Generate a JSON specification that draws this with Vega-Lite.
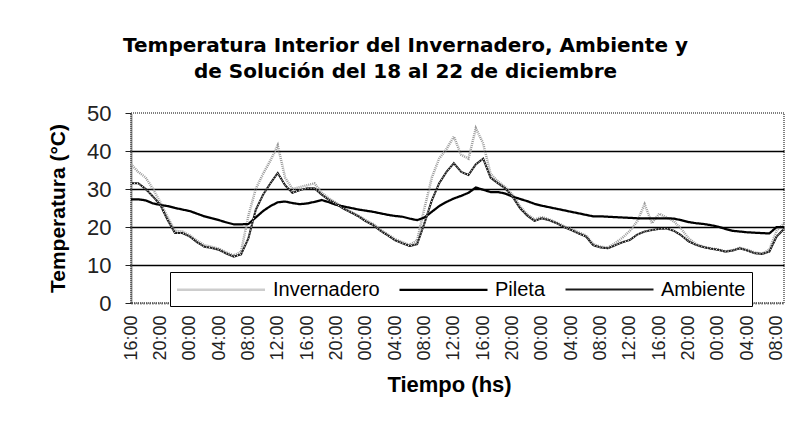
{
  "$schema": "https://vega.github.io/schema/vega-lite/v6.json",
  "width": 653,
  "height": 190,
  "autosize": {"type": "none"},
  "padding": {"left": 131, "top": 113, "right": 25, "bottom": 125},
  "background": "white",
  "title": {
    "text": ["Temperatura Interior del Invernadero, Ambiente y", "de Solución del 18 al 22 de diciembre"],
    "font": "DejaVu Sans",
    "fontSize": 20,
    "fontWeight": "bold",
    "color": "black",
    "anchor": "middle",
    "frame": "group",
    "dx": -52,
    "offset": 20,
    "lineHeight": 26
  },
  "data": {
    "values": [
      {"h": 0, "Invernadero": 36.5, "Pileta": 27.3, "Ambiente": 31.5},
      {"h": 1, "Invernadero": 34.5, "Pileta": 27.3, "Ambiente": 31.5},
      {"h": 2, "Invernadero": 33, "Pileta": 27, "Ambiente": 30},
      {"h": 3, "Invernadero": 30, "Pileta": 26.2, "Ambiente": 28},
      {"h": 4, "Invernadero": 26.5, "Pileta": 25.8, "Ambiente": 25.8},
      {"h": 5, "Invernadero": 22.5, "Pileta": 25.5, "Ambiente": 21.8},
      {"h": 6, "Invernadero": 19, "Pileta": 25, "Ambiente": 18.4},
      {"h": 7, "Invernadero": 18.8, "Pileta": 24.6, "Ambiente": 18.4},
      {"h": 8, "Invernadero": 17.8, "Pileta": 24.2, "Ambiente": 17.5},
      {"h": 9, "Invernadero": 16.4, "Pileta": 23.5, "Ambiente": 16},
      {"h": 10, "Invernadero": 15.2, "Pileta": 22.8, "Ambiente": 14.8},
      {"h": 11, "Invernadero": 14.8, "Pileta": 22.3, "Ambiente": 14.5},
      {"h": 12, "Invernadero": 14.3, "Pileta": 21.8, "Ambiente": 14},
      {"h": 13, "Invernadero": 13.3, "Pileta": 21.2, "Ambiente": 13},
      {"h": 14, "Invernadero": 12.5, "Pileta": 20.7, "Ambiente": 12.2},
      {"h": 15, "Invernadero": 13.5, "Pileta": 20.7, "Ambiente": 12.8},
      {"h": 16, "Invernadero": 23, "Pileta": 20.8, "Ambiente": 17},
      {"h": 17, "Invernadero": 30, "Pileta": 22.5, "Ambiente": 24.5},
      {"h": 18, "Invernadero": 34, "Pileta": 24.2, "Ambiente": 28.5},
      {"h": 19, "Invernadero": 37.5, "Pileta": 25.5, "Ambiente": 31.5},
      {"h": 20, "Invernadero": 41.5, "Pileta": 26.5, "Ambiente": 34.2},
      {"h": 21, "Invernadero": 33, "Pileta": 26.7, "Ambiente": 31},
      {"h": 22, "Invernadero": 30, "Pileta": 26.3, "Ambiente": 29},
      {"h": 23, "Invernadero": 30.5, "Pileta": 26, "Ambiente": 29.7},
      {"h": 24, "Invernadero": 31, "Pileta": 26.2, "Ambiente": 30.2},
      {"h": 25, "Invernadero": 31.5, "Pileta": 26.6, "Ambiente": 30.2},
      {"h": 26, "Invernadero": 29, "Pileta": 27.1, "Ambiente": 28.5},
      {"h": 27, "Invernadero": 27.5, "Pileta": 26.5, "Ambiente": 27.1},
      {"h": 28, "Invernadero": 26.3, "Pileta": 25.8, "Ambiente": 26},
      {"h": 29, "Invernadero": 25, "Pileta": 25.4, "Ambiente": 24.8},
      {"h": 30, "Invernadero": 24, "Pileta": 25, "Ambiente": 23.8},
      {"h": 31, "Invernadero": 23, "Pileta": 24.6, "Ambiente": 22.8},
      {"h": 32, "Invernadero": 21.8, "Pileta": 24.3, "Ambiente": 21.5},
      {"h": 33, "Invernadero": 20.8, "Pileta": 24, "Ambiente": 20.5},
      {"h": 34, "Invernadero": 19.3, "Pileta": 23.6, "Ambiente": 19},
      {"h": 35, "Invernadero": 18, "Pileta": 23.2, "Ambiente": 17.8},
      {"h": 36, "Invernadero": 16.8, "Pileta": 22.9, "Ambiente": 16.5},
      {"h": 37, "Invernadero": 16, "Pileta": 22.7, "Ambiente": 15.7},
      {"h": 38, "Invernadero": 15.3, "Pileta": 22.2, "Ambiente": 15},
      {"h": 39, "Invernadero": 16.5, "Pileta": 21.8, "Ambiente": 15.5},
      {"h": 40, "Invernadero": 25, "Pileta": 22.5, "Ambiente": 21},
      {"h": 41, "Invernadero": 33, "Pileta": 24, "Ambiente": 27},
      {"h": 42, "Invernadero": 38, "Pileta": 25.5, "Ambiente": 31.5},
      {"h": 43, "Invernadero": 40.5, "Pileta": 26.6, "Ambiente": 34.5},
      {"h": 44, "Invernadero": 43.8, "Pileta": 27.5, "Ambiente": 36.8},
      {"h": 45, "Invernadero": 39, "Pileta": 28.2, "Ambiente": 34.5},
      {"h": 46, "Invernadero": 38, "Pileta": 29, "Ambiente": 33.7},
      {"h": 47, "Invernadero": 46, "Pileta": 30.4, "Ambiente": 36.5},
      {"h": 48, "Invernadero": 42, "Pileta": 29.8, "Ambiente": 38},
      {"h": 49, "Invernadero": 34, "Pileta": 29.2, "Ambiente": 33},
      {"h": 50, "Invernadero": 32, "Pileta": 29.2, "Ambiente": 31.5},
      {"h": 51, "Invernadero": 30.5, "Pileta": 28.8, "Ambiente": 30.2},
      {"h": 52, "Invernadero": 28.5, "Pileta": 28, "Ambiente": 28},
      {"h": 53, "Invernadero": 25.5, "Pileta": 27.4, "Ambiente": 25},
      {"h": 54, "Invernadero": 23.3, "Pileta": 26.8, "Ambiente": 23},
      {"h": 55, "Invernadero": 22, "Pileta": 26.1, "Ambiente": 21.6},
      {"h": 56, "Invernadero": 22.6, "Pileta": 25.6, "Ambiente": 22.3},
      {"h": 57, "Invernadero": 22, "Pileta": 25.2, "Ambiente": 21.8},
      {"h": 58, "Invernadero": 21.2, "Pileta": 24.8, "Ambiente": 21},
      {"h": 59, "Invernadero": 20.2, "Pileta": 24.4, "Ambiente": 20},
      {"h": 60, "Invernadero": 19.5, "Pileta": 24, "Ambiente": 19.2},
      {"h": 61, "Invernadero": 18.6, "Pileta": 23.6, "Ambiente": 18.3},
      {"h": 62, "Invernadero": 17.8, "Pileta": 23.2, "Ambiente": 17.5},
      {"h": 63, "Invernadero": 15.5, "Pileta": 22.8, "Ambiente": 15.2},
      {"h": 64, "Invernadero": 14.8, "Pileta": 22.8, "Ambiente": 14.6},
      {"h": 65, "Invernadero": 14.6, "Pileta": 22.7, "Ambiente": 14.4},
      {"h": 66, "Invernadero": 15.8, "Pileta": 22.6, "Ambiente": 15.2},
      {"h": 67, "Invernadero": 17.2, "Pileta": 22.5, "Ambiente": 16},
      {"h": 68, "Invernadero": 19, "Pileta": 22.4, "Ambiente": 16.6},
      {"h": 69, "Invernadero": 21.5, "Pileta": 22.3, "Ambiente": 18},
      {"h": 70, "Invernadero": 26, "Pileta": 22.3, "Ambiente": 18.8},
      {"h": 71, "Invernadero": 21, "Pileta": 22.3, "Ambiente": 19.2},
      {"h": 72, "Invernadero": 23.5, "Pileta": 22.3, "Ambiente": 19.5},
      {"h": 73, "Invernadero": 22.5, "Pileta": 22.3, "Ambiente": 19.6},
      {"h": 74, "Invernadero": 21.5, "Pileta": 22.2, "Ambiente": 19},
      {"h": 75, "Invernadero": 19.5, "Pileta": 21.8, "Ambiente": 17.8},
      {"h": 76, "Invernadero": 17, "Pileta": 21.3, "Ambiente": 16.2},
      {"h": 77, "Invernadero": 15.5, "Pileta": 21, "Ambiente": 15.3},
      {"h": 78, "Invernadero": 14.8, "Pileta": 20.8, "Ambiente": 14.7},
      {"h": 79, "Invernadero": 14.4, "Pileta": 20.5, "Ambiente": 14.3},
      {"h": 80, "Invernadero": 14.1, "Pileta": 20.1, "Ambiente": 14},
      {"h": 81, "Invernadero": 13.6, "Pileta": 19.5, "Ambiente": 13.5},
      {"h": 82, "Invernadero": 13.9, "Pileta": 19, "Ambiente": 13.8},
      {"h": 83, "Invernadero": 14.5, "Pileta": 18.8, "Ambiente": 14.4},
      {"h": 84, "Invernadero": 14, "Pileta": 18.6, "Ambiente": 13.8},
      {"h": 85, "Invernadero": 13.3, "Pileta": 18.5, "Ambiente": 13.1},
      {"h": 86, "Invernadero": 13, "Pileta": 18.4, "Ambiente": 12.9},
      {"h": 87, "Invernadero": 14, "Pileta": 18.3, "Ambiente": 13.5},
      {"h": 88, "Invernadero": 19, "Pileta": 20, "Ambiente": 17.5},
      {"h": 89, "Invernadero": 21, "Pileta": 20, "Ambiente": 19.5}
    ]
  },
  "transform": [{"fold": ["Invernadero", "Pileta", "Ambiente"], "as": ["serie", "temp"]}],
  "encoding": {
    "x": {
      "field": "h",
      "type": "quantitative",
      "scale": {"domain": [0, 89], "nice": false, "zero": false},
      "axis": {
        "title": "Tiempo (hs)",
        "values": [0, 4, 8, 12, 16, 20, 24, 28, 32, 36, 40, 44, 48, 52, 56, 60, 64, 68, 72, 76, 80, 84, 88],
        "labelExpr": "(((datum.value + 16) % 24) < 10 ? '0' : '') + ((datum.value + 16) % 24) + ':00'",
        "labelAngle": -90,
        "labelFont": "Liberation Sans",
        "labelFontSize": 18,
        "labelColor": "#222",
        "labelPadding": 12,
        "labelOverlap": false,
        "labelFlush": false,
        "ticks": false,
        "grid": false,
        "domainColor": "#333",
        "domainWidth": 2,
        "domainDash": [1, 2],
        "titleFont": "Liberation Sans",
        "titleFontSize": 22,
        "titleFontWeight": "bold",
        "titleColor": "black",
        "titlePadding": 14,
        "titleX": 318
      }
    },
    "y": {
      "field": "temp",
      "type": "quantitative",
      "scale": {"domain": [0, 50], "nice": false},
      "axis": {
        "title": "Temperatura (°C)",
        "values": [0, 10, 20, 30, 40, 50],
        "labelFont": "Liberation Sans",
        "labelFontSize": 22,
        "labelColor": "#222",
        "labelPadding": 14,
        "tickSize": 6,
        "tickColor": "#222",
        "domainColor": "#333",
        "domainWidth": 2,
        "domainDash": [1, 1],
        "grid": true,
        "gridColor": "black",
        "gridWidth": 1.5,
        "gridOpacity": {"condition": {"test": "datum.value == 0 || datum.value == 50", "value": 0}, "value": 1},
        "titleFont": "Liberation Sans",
        "titleFontSize": 21,
        "titleFontWeight": "bold",
        "titleColor": "black",
        "titlePadding": 18
      }
    }
  },
  "layer": [
    {
      "mark": {"type": "line", "interpolate": "linear"},
      "encoding": {
        "color": {
          "field": "serie",
          "type": "nominal",
          "scale": {"domain": ["Invernadero", "Pileta", "Ambiente"], "range": ["#9a9a9a", "#000000", "#1a1a1a"]},
          "legend": {
            "title": null,
            "orient": "none",
            "legendX": 39,
            "legendY": 159,
            "direction": "horizontal",
            "columns": 3,
            "symbolType": "M-1,0H7.8",
            "symbolSize": 400,
            "labelFont": "Liberation Sans",
            "labelFontSize": 20,
            "labelColor": "black",
            "labelOffset": 74,
            "columnPadding": 15,
            "padding": 6,
            "strokeColor": "black",
            "fillColor": "white"
          }
        },
        "strokeWidth": {
          "field": "serie",
          "type": "nominal",
          "scale": {"domain": ["Invernadero", "Pileta", "Ambiente"], "range": [2.5, 2, 4]},
          "legend": {"title": null}
        },
        "strokeDash": {
          "field": "serie",
          "type": "nominal",
          "scale": {"domain": ["Invernadero", "Pileta", "Ambiente"], "range": [[1, 1], [1, 0], [1, 0]]},
          "legend": {"title": null}
        }
      }
    },
    {
      "transform": [{"filter": "datum.serie == 'Ambiente'"}],
      "mark": {"type": "line", "color": "white", "strokeWidth": 1, "strokeDash": [1, 2]},
      "encoding": {}
    }
  ],
  "config": {
    "view": {"stroke": "#555", "strokeDash": [1, 1], "strokeWidth": 1.5}
  }
}
